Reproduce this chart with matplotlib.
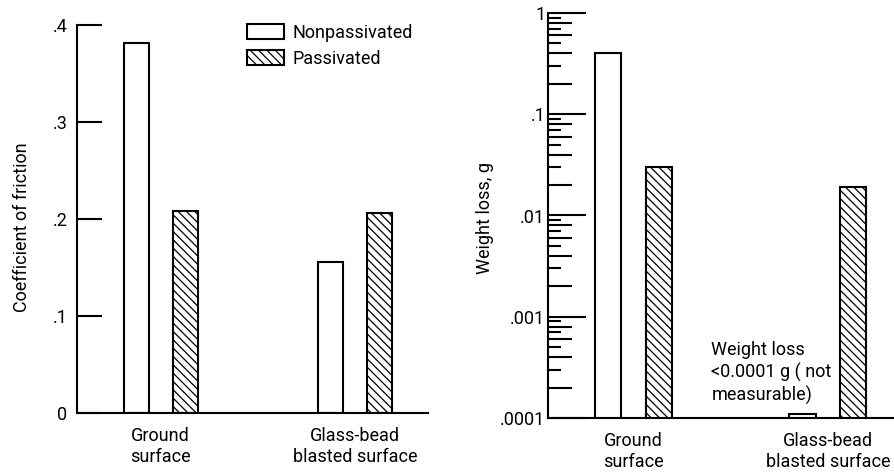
import matplotlib
matplotlib.use('Agg')
import numpy as np
import matplotlib.pyplot as plt
from matplotlib.patches import Patch

plt.rcParams['font.family'] = ['Roboto', 'DejaVu Sans']
plt.rcParams['hatch.linewidth'] = 0.9

categories = ['Ground\nsurface', 'Glass-bead\nblasted surface']
series = ['Nonpassivated', 'Passivated']

friction_nonpass = [0.381, 0.156]
friction_pass = [0.208, 0.206]

wear_nonpass = [0.40, 0.00011]
wear_pass = [0.030, 0.019]

friction_ticks = [0, 0.1, 0.2, 0.3, 0.4]
friction_labels = ['0', '.1', '.2', '.3', '.4']
wear_ticks = [1e-4, 1e-3, 1e-2, 1e-1, 1]
wear_labels = ['.0001', '.001', '.01', '.1', '1']

W, H = 894, 473
fig = plt.figure(figsize=(W / 100, H / 100), dpi=100)
fs = 13
lw = 1.5
hatch = '\\\\\\\\'

x = np.arange(len(categories))


def px_axes(left, top, right, bottom):
    return fig.add_axes([left / W, 1 - bottom / H, (right - left) / W, (bottom - top) / H])


def style(ax):
    for s in ['top', 'right']:
        ax.spines[s].set_visible(False)
    for s in ['left', 'bottom']:
        ax.spines[s].set_linewidth(lw)
    ax.set_xticks(x)
    ax.set_xticklabels(categories, fontsize=fs, linespacing=1.25)
    ax.tick_params(axis='x', length=0, pad=10)


# left panel: coefficient of friction
ax1 = px_axes(77, 25, 428, 413)
off, bw = 0.126, 0.129
ax1.bar(x - off, friction_nonpass, bw, facecolor='white', edgecolor='black', linewidth=lw)
ax1.bar(x + off, friction_pass, bw, facecolor='white', edgecolor='black', linewidth=lw, hatch=hatch)
ax1.set_ylim(0, 0.4)
ax1.set_xlim(-0.43, 1.375)
ax1.set_yticks(friction_ticks)
ax1.set_yticklabels(friction_labels, fontsize=fs)
ax1.tick_params(axis='y', direction='in', length=18, width=lw, pad=7)
ax1.set_ylabel('Coefficient of friction', fontsize=fs)
ax1.yaxis.set_label_coords(-0.13, 0.48)
style(ax1)

handles = [Patch(facecolor='white', edgecolor='black', linewidth=lw),
           Patch(facecolor='white', edgecolor='black', linewidth=lw, hatch=hatch)]
fig.legend(handles, series, loc='upper left', bbox_to_anchor=(247 / W, 1 - 24 / H),
           frameon=False, fontsize=fs, handlelength=2.05, handleheight=0.9,
           handletextpad=0.45, labelspacing=0.45, borderpad=0, borderaxespad=0)

# right panel: weight loss (log scale)
ax2 = px_axes(548, 13, 894, 418)
off2, bw2 = 0.131, 0.135
ax2.bar(x - off2, wear_nonpass, bw2, facecolor='white', edgecolor='black', linewidth=lw)
ax2.bar(x + off2, wear_pass, bw2, facecolor='white', edgecolor='black', linewidth=lw, hatch=hatch)
ax2.set_yscale('log')
ax2.set_ylim(1e-4, 1)
ax2.set_xlim(-0.44, 1.34)
ax2.set_yticks(wear_ticks)
ax2.set_yticklabels(wear_labels, fontsize=fs)
ax2.set_yticks([s * 10.0 ** e for e in range(-4, 0) for s in (2, 4, 6, 8)], minor=True)
ax2.tick_params(axis='y', which='major', direction='in', length=27, width=lw, pad=2)
ax2.tick_params(axis='y', which='minor', direction='in', length=17, width=lw, labelleft=False)
ax2.set_ylabel('Weight loss, g', fontsize=fs)
ax2.yaxis.set_label_coords(-0.155, 0.494)
style(ax2)

# shorter minor ticks for the odd subdivisions
sec = ax2.secondary_yaxis('left')
sec.set_yticks([s * 10.0 ** e for e in range(-4, 0) for s in (3, 5, 7, 9)])
sec.set_yticklabels([])
sec.tick_params(axis='y', which='major', direction='in', length=9, width=lw)
sec.tick_params(axis='y', which='minor', length=0)
sec.spines['left'].set_visible(False)

ax2.text(0.40, 1.35e-4, 'Weight loss\n<0.0001 g ( not\nmeasurable)', fontsize=fs,
         ha='left', va='bottom', linespacing=1.25)

fig.savefig('out.png', dpi=100)
